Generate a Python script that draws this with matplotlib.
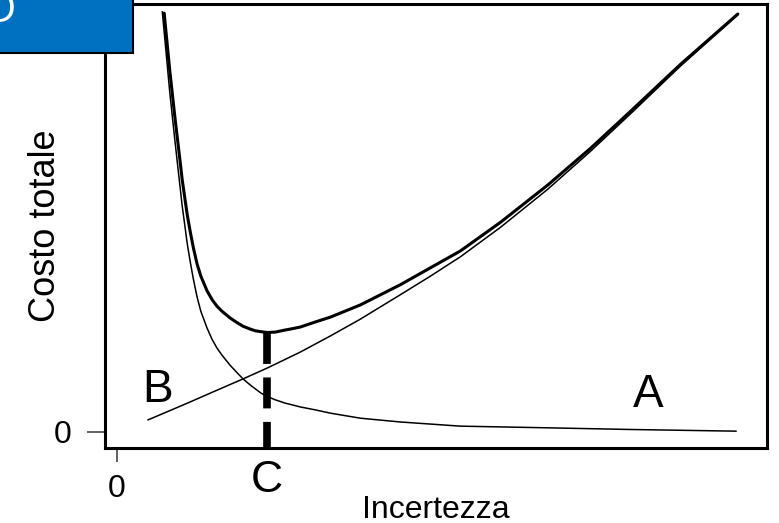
import numpy as np
import matplotlib
matplotlib.use("Agg")
import matplotlib.pyplot as plt
from matplotlib.patches import Rectangle

plt.rcParams["font.family"] = ["Liberation Sans", "DejaVu Sans"]

# curva A: costo che cresce con l'incertezza
a_x = [5.0, 8.5, 11.8, 15.8, 20.3, 24.2, 29.5, 34.4, 39.2, 45.6, 50.5, 55.3,
       61.8, 69.4, 76.3, 82.7, 90.8, 100.0]
a_y = [2.9, 5.1, 7.2, 9.8, 12.7, 15.3, 19.1, 23.0, 27.0, 32.8, 37.3, 41.9,
       49.0, 58.1, 67.2, 76.1, 87.6, 99.8]

# curva B: costo che scende con l'incertezza
b_x = [7.3, 7.9, 8.5, 9.35, 10.2, 10.5, 11.0, 11.3, 11.8, 12.3, 12.9, 13.5,
       14.5, 15.3, 16.1, 16.9, 18.2, 19.2, 20.3, 21.5, 22.3, 23.2, 24.2, 25.5,
       27.1, 28.2, 29.5, 31.9, 34.4, 39.2, 45.6, 55.3, 69.4, 82.7, 99.7]
b_y = [100.5, 90.9, 81.3, 69.4, 58.1, 54.1, 48.6, 45.2, 40.7, 36.6, 32.3, 28.9,
       24.9, 22.2, 20.1, 18.4, 16.0, 14.4, 12.7, 11.2, 10.3, 9.3, 8.5, 7.7,
       6.9, 6.5, 6.0, 5.3, 4.5, 3.3, 2.4, 1.4, 1.0, 0.6, 0.2]

# costo totale (A + B)
tot_x = [7.6, 7.9, 8.5, 9.35, 10.2, 10.5, 11.0, 11.3, 11.8, 12.3, 12.9, 13.5,
         14.5, 15.3, 16.1, 16.9, 18.2, 19.2, 20.3, 21.5, 22.3, 23.2, 24.2, 25.5,
         27.1, 28.2, 29.5, 31.9, 34.4, 39.2, 45.6, 55.3, 61.8, 69.4, 76.3, 82.7,
         90.8, 100.0]
tot_y = [100.2, 95.6, 86.5, 75.0, 64.3, 60.4, 55.2, 52.1, 47.9, 44.1, 40.2, 37.3,
         33.8, 31.7, 30.1, 28.9, 27.3, 26.3, 25.3, 24.6, 24.2, 24.0, 23.8, 23.9,
         24.4, 24.7, 25.1, 26.3, 27.5, 30.4, 35.2, 43.3, 50.2, 59.1, 67.9, 76.7,
         88.0, 100.0]

XLIM = (-1.93, 104.7)
YLIM = (-3.83, 102.4)

fig = plt.figure(figsize=(7.79, 5.23), dpi=100)
ax = fig.add_axes([0.1348, 0.1434, 0.8498, 0.849])

ax.plot(a_x, a_y, color="black", lw=1.1, solid_joinstyle="round")
ax.plot(b_x, b_y, color="black", lw=1.1, solid_joinstyle="round")
ax.plot(tot_x, tot_y, color="black", lw=2.2, solid_capstyle="round",
        solid_joinstyle="round")

# minimo del costo totale -> punto C
i_min = int(np.argmin(tot_y))
c_x = tot_x[i_min]
ax.plot([c_x, c_x], [tot_y[i_min], YLIM[0]], color="black", lw=5.5,
        linestyle=(0, (4.05, 1.77)), dash_capstyle="butt")

ax.text(6.5, 7.2, "B", fontsize=33, ha="center", va="baseline")
ax.text(85.5, 6.0, "A", fontsize=33, ha="center", va="baseline")
ax.annotate("C", xy=(c_x, 0), xycoords=("data", "axes fraction"),
            xytext=(0, -31.5), textcoords="offset points",
            fontsize=32, ha="center", va="baseline")

ax.set_xlim(*XLIM)
ax.set_ylim(*YLIM)
ax.set_xticks([0])
ax.set_xticklabels(["0"])
ax.set_yticks([0])
ax.set_yticklabels(["0"])
ax.tick_params(axis="x", direction="out", length=10, width=1.2, color="#444444",
               pad=9, labelsize=23)
ax.tick_params(axis="y", direction="out", length=13, width=1.2, color="#444444",
               pad=11, labelsize=23)

for s in ax.spines.values():
    s.set_linewidth(2.2)
    s.set_color("black")

ax.set_xlabel("Incertezza", fontsize=23, va="baseline")
ax.xaxis.set_label_coords(0.5, -0.157)
ax.set_ylabel("Costo totale", fontsize=26, va="center")
ax.yaxis.set_label_coords(-0.09, 0.5)

# riquadro blu in alto a sinistra
box = Rectangle((-0.02, 1 - 53 / 523), 0.02 + 133 / 779, 53 / 523 + 0.02,
                transform=fig.transFigure, facecolor="#0070C0",
                edgecolor="black", lw=1.5, zorder=5)
fig.add_artist(box)
fig.text(16 / 779, 1 - 22 / 523, "D", color="white", fontsize=30,
         family="Open Sans", ha="right", va="baseline", zorder=6)

fig.savefig("out.png", dpi=100)
